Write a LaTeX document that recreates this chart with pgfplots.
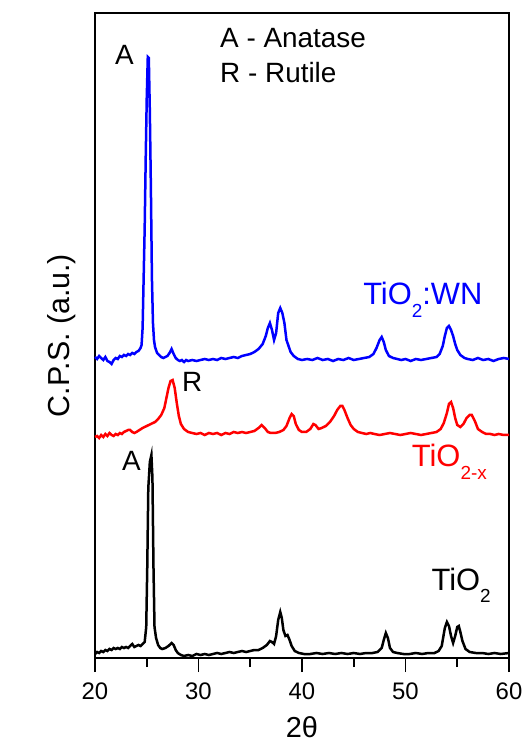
\documentclass[border=0pt]{standalone}
\usepackage{pgfplots}
\pgfplotsset{compat=1.18}
\usepackage{fontspec}
\setmainfont{Liberation Sans}
\definecolor{pblue}{RGB}{0,0,255}
\definecolor{pred}{RGB}{255,0,0}
\newcommand{\sub}[1]{\raisebox{-0.42em}{\fontsize{19}{21}\selectfont #1}}
\begin{document}
\begin{tikzpicture}
\begin{axis}[name=ax,
  scale only axis, width=414bp, height=645bp,
  xmin=20, xmax=60, ymin=0, ymax=645,
  xtick={20,30,40,50,60}, minor xtick={25,35,45,55},
  ytick=\empty,
  xtick pos=bottom, tick align=outside,
  major tick length=14bp, minor tick length=9bp,
  every tick/.style={line width=1.8bp, black},
  axis line style={line width=1.8bp},
  /pgf/number format/assume math mode=true,
  xticklabel style={font=\fontsize{24}{27}\selectfont, yshift=-7bp},
  xlabel={2θ}, xlabel style={font=\fontsize{29}{32}\selectfont, yshift=-10bp},
  ylabel={C.P.S. (a.u.)}, ylabel style={font=\fontsize{30.5}{33}\selectfont, yshift=2bp},
  clip=false,
]
\addplot[pblue, line width=2.5bp] coordinates {
(20.0,301)(20.2,299)(20.4,302)(20.6,300)(20.8,298)(21.0,301)(21.2,297)(21.4,296)(21.6,294)(21.8,298)(22.0,300)(22.2,299)(22.4,302)(22.6,301)(22.8,303)(23.0,302)(23.2,304)(23.4,303)(23.6,305)(23.8,304)(24.0,306)(24.2,307)(24.4,310)(24.5,313)(24.6,330)(24.7,380)(24.8,430)(24.9,500)(25.0,560)(25.1,601)(25.2,600)(25.3,545)(25.4,470)(25.5,380)(25.6,335)(25.7,318)(25.8,311)(26.0,305)(26.2,303)(26.4,301)(26.6,300)(26.8,301)(27.0,302)(27.2,305)(27.4,309)(27.6,304)(27.8,300)(28.0,298)(28.2,297)(28.4,298)(28.6,296)(28.8,298)(29.0,297)(29.4,298)(29.8,297)(30.2,298)(30.6,299)(31.0,298)(31.4,299)(31.8,298)(32.2,300)(32.6,299)(33.0,300)(33.4,301)(33.8,300)(34.2,302)(34.6,303)(35.0,304)(35.4,306)(35.8,309)(36.2,314)(36.5,322)(36.7,330)(36.9,335)(37.1,328)(37.3,318)(37.5,325)(37.7,345)(37.9,350)(38.1,345)(38.3,335)(38.5,318)(38.7,312)(38.9,306)(39.2,302)(39.6,299)(40.0,298)(40.5,299)(41.0,298)(41.5,300)(42.0,298)(42.5,299)(43.0,297)(43.5,299)(44.0,298)(44.5,300)(45.0,298)(45.5,299)(46.0,300)(46.5,301)(46.9,304)(47.2,310)(47.5,318)(47.7,321)(47.9,316)(48.1,308)(48.4,302)(48.8,300)(49.2,299)(49.6,298)(50.0,299)(50.5,297)(51.0,299)(51.5,298)(52.0,299)(52.5,300)(53.0,301)(53.3,304)(53.6,312)(53.8,322)(54.0,330)(54.2,332)(54.4,328)(54.6,322)(54.8,314)(55.0,308)(55.3,303)(55.7,300)(56.0,299)(56.5,298)(57.0,300)(57.5,298)(58.0,299)(58.5,297)(59.0,299)(59.5,300)(60.0,299)
};
\addplot[pred, line width=2.5bp] coordinates {
(20.0,221)(20.2,222)(20.4,220)(20.6,223)(20.8,221)(21.0,224)(21.2,222)(21.4,225)(21.6,223)(21.8,222)(22.0,224)(22.2,223)(22.4,225)(22.6,224)(22.8,226)(23.0,227)(23.2,228)(23.4,228)(23.6,226)(23.8,225)(24.0,226)(24.3,228)(24.6,230)(25.0,232)(25.4,234)(25.8,236)(26.1,239)(26.4,243)(26.7,250)(26.9,260)(27.1,270)(27.3,277)(27.5,278)(27.7,270)(27.9,255)(28.1,242)(28.3,234)(28.6,229)(29.0,226)(29.4,225)(29.8,224)(30.2,225)(30.6,223)(31.0,225)(31.4,224)(31.8,225)(32.2,223)(32.6,225)(33.0,224)(33.4,226)(33.8,225)(34.2,226)(34.6,225)(35.0,226)(35.4,227)(35.8,230)(36.1,233)(36.4,230)(36.7,226)(37.0,225)(37.4,225)(37.8,226)(38.2,228)(38.5,232)(38.8,240)(39.0,244)(39.2,242)(39.4,234)(39.7,228)(40.0,226)(40.4,226)(40.8,229)(41.1,234)(41.3,233)(41.6,229)(41.9,230)(42.3,232)(42.7,236)(43.1,242)(43.4,248)(43.7,252)(43.9,252)(44.1,248)(44.4,240)(44.7,233)(45.0,229)(45.4,226)(45.8,225)(46.2,224)(46.6,225)(47.0,224)(47.5,223)(48.0,224)(48.5,225)(49.0,224)(49.5,223)(50.0,224)(50.5,225)(51.0,224)(51.5,223)(52.0,224)(52.5,225)(53.0,226)(53.4,229)(53.7,235)(54.0,245)(54.2,254)(54.4,256)(54.6,250)(54.8,240)(55.0,233)(55.3,231)(55.6,234)(55.9,240)(56.2,243)(56.4,243)(56.7,237)(57.0,229)(57.4,226)(57.8,224)(58.2,224)(58.6,223)(59.0,224)(59.5,223)(60.0,223)
};
\addplot[black, line width=2.5bp] coordinates {
(20.0,4)(20.2,6)(20.4,5)(20.6,7)(20.8,6)(21.0,8)(21.2,7)(21.4,9)(21.6,8)(21.8,10)(22.0,9)(22.2,10)(22.4,9)(22.6,11)(22.8,10)(23.0,11)(23.2,10)(23.4,12)(23.6,14)(23.8,11)(24.0,12)(24.2,13)(24.4,12)(24.6,14)(24.8,16)(24.95,31)(25.05,91)(25.15,170)(25.3,196)(25.45,203)(25.55,180)(25.65,91)(25.75,31)(25.9,20)(26.1,13)(26.3,10)(26.5,9)(26.8,10)(27.1,12)(27.4,15)(27.6,13)(27.8,8)(28.0,5)(28.3,3)(28.6,2)(29.0,3)(29.4,2)(29.8,4)(30.2,3)(30.6,4)(31.0,3)(31.4,4)(31.8,5)(32.2,4)(32.6,5)(33.0,6)(33.4,5)(33.8,6)(34.2,7)(34.6,6)(35.0,7)(35.4,8)(35.8,8)(36.2,10)(36.6,13)(36.9,17)(37.1,16)(37.3,14)(37.5,22)(37.7,38)(37.9,46)(38.05,40)(38.2,28)(38.4,22)(38.6,23)(38.8,18)(39.0,12)(39.3,7)(39.7,5)(40.2,4)(40.8,4)(41.4,5)(42.0,4)(42.6,5)(43.2,4)(43.8,5)(44.4,4)(45.0,5)(45.6,4)(46.2,5)(46.8,5)(47.3,6)(47.7,10)(47.9,18)(48.1,25)(48.3,20)(48.5,10)(48.8,6)(49.2,5)(49.8,4)(50.4,4)(51.0,5)(51.6,4)(52.2,5)(52.8,5)(53.2,7)(53.5,12)(53.8,30)(54.0,36)(54.2,32)(54.4,22)(54.6,15)(54.8,22)(55.0,31)(55.15,32)(55.3,26)(55.5,17)(55.8,9)(56.2,6)(56.8,5)(57.4,5)(58.0,4)(58.6,5)(59.2,4)(60.0,5)
};
\node[anchor=base west, font=\fontsize{28}{30}\selectfont, inner sep=0pt] at (axis cs:32.08,610) {A - Anatase};
\node[anchor=base west, font=\fontsize{28}{30}\selectfont, inner sep=0pt] at (axis cs:32.08,575) {R - Rutile};
\node[anchor=base west, font=\fontsize{28}{30}\selectfont, inner sep=0pt] at (axis cs:21.93,593) {A};
\node[anchor=base west, font=\fontsize{28}{30}\selectfont, inner sep=0pt] at (axis cs:28.4,266) {R};
\node[anchor=base west, font=\fontsize{28}{30}\selectfont, inner sep=0pt] at (axis cs:22.6,187) {A};
\node[anchor=base west, font=\fontsize{31}{34}\selectfont, text=pblue, inner sep=0pt] at (axis cs:45.9,353) {TiO\sub{2}:WN};
\node[anchor=base west, font=\fontsize{31}{34}\selectfont, text=pred, inner sep=0pt] at (axis cs:50.6,191) {TiO\sub{2-x}};
\node[anchor=base west, font=\fontsize{31}{34}\selectfont, text=black, inner sep=0pt] at (axis cs:52.5,68) {TiO\sub{2}};
\end{axis}
\pgfresetboundingbox
\path[use as bounding box] (ax.south west) ++(-95bp,-84bp) rectangle ++(524bp,742bp);
\end{tikzpicture}
\end{document}
